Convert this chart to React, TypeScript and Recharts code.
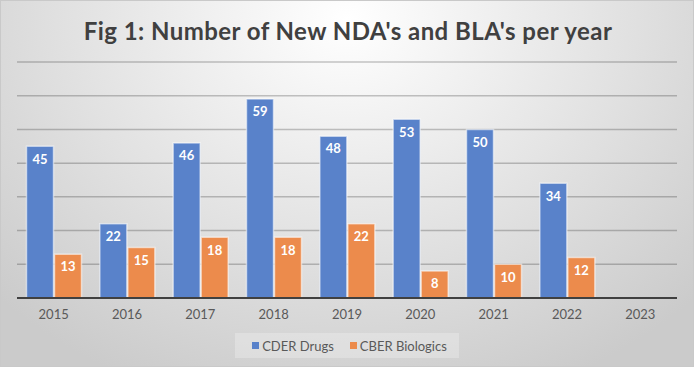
import React from 'react';
import { BarChart, Bar, XAxis, YAxis, CartesianGrid, Legend, LabelList } from 'recharts';

const years = ['2015', '2016', '2017', '2018', '2019', '2020', '2021', '2022', '2023'];
const cderDrugs: (number | null)[] = [45, 22, 46, 59, 48, 53, 50, 34, null];
const cberBiologics: (number | null)[] = [13, 15, 18, 18, 22, 8, 10, 12, null];
const yTicks = [0, 10, 20, 30, 40, 50, 60, 70];
const seriesNames = ['CDER Drugs', 'CBER Biologics'];
const title = "Fig 1: Number of New NDA's and BLA's per year";

const data = years.map((y, i) => ({ year: y, cder: cderDrugs[i], cber: cberBiologics[i] }));

const FONT = "Lato, 'Open Sans', sans-serif";
const BLUE = '#5982CA';
const ORANGE = '#EC8B4C';

const LegendContent = (props: any) => {
  const payload = [...(props.payload || [])].sort(
    (a: any, b: any) => seriesNames.indexOf(a.value) - seriesNames.indexOf(b.value)
  );
  return (
    <div style={{ display: 'flex', justifyContent: 'center' }}>
      <div
        style={{
          display: 'flex',
          alignItems: 'center',
          height: 25,
          padding: '0 12px 0 17px',
          background: 'rgba(255,255,255,0.25)',
          fontFamily: FONT,
          fontSize: 13,
          color: '#595959',
        }}
      >
        {payload.map((p: any, i: number) => (
          <div key={i} style={{ display: 'flex', alignItems: 'center', marginRight: i === 0 ? 16 : 0 }}>
            <span style={{ width: 7, height: 7, background: p.color, display: 'inline-block', marginRight: 3 }} />
            <span>{p.value}</span>
          </div>
        ))}
      </div>
    </div>
  );
};

export default function App() {
  React.useEffect(() => {
    document.body.style.margin = '0';
  }, []);
  return (
    <div
      style={{
        position: 'relative',
        width: 694,
        height: 367,
        boxSizing: 'border-box',
        border: '1px solid #c9c9c9',
        background:
          'radial-gradient(ellipse 70% 110% at 50% 5%, #ffffff 0%, #f2f2f2 25%, #e0e0e0 60%, #cbcbcb 100%)',
        overflow: 'hidden',
      }}
    >
      <div
        style={{
          position: 'absolute',
          top: 16,
          left: 0,
          width: 694,
          textAlign: 'center',
          fontFamily: FONT,
          fontWeight: 700,
          fontSize: 24,
          letterSpacing: 0.45,
          lineHeight: '28px',
          color: '#404040',
        }}
      >
        {title}
      </div>
      <div style={{ position: 'absolute', left: -1, top: -1 }}>
        <BarChart
          width={694}
          height={367}
          data={data}
          margin={{ top: 62, right: 17, left: 17, bottom: 14 }}
          barCategoryGap={9.5}
          barGap={1}
        >
          <CartesianGrid vertical={false} stroke="rgba(0,0,0,0.22)" strokeWidth={1.5} />
          <YAxis hide domain={[0, 70]} ticks={yTicks} />
          <XAxis
            dataKey="year"
            axisLine={{ stroke: '#404040', strokeWidth: 2 }}
            tickLine={false}
            tickMargin={6}
            tick={{ fill: '#595959', fontSize: 13, fontFamily: FONT }}
            height={30}
          />
          <Legend
            verticalAlign="bottom"
            height={25}
            content={<LegendContent />}
            wrapperStyle={{ bottom: 9 }}
          />
          <Bar dataKey="cder" name={seriesNames[0]} fill={BLUE} stroke="rgba(255,255,255,0.55)" strokeWidth={1.5} isAnimationActive={false}>
            <LabelList dataKey="cder" position="insideTop" offset={8} fill="#ffffff" fontSize={13} fontWeight={700} fontFamily={FONT} />
          </Bar>
          <Bar dataKey="cber" name={seriesNames[1]} fill={ORANGE} stroke="rgba(255,255,255,0.55)" strokeWidth={1.5} isAnimationActive={false}>
            <LabelList dataKey="cber" position="insideTop" offset={8} fill="#ffffff" fontSize={13} fontWeight={700} fontFamily={FONT} />
          </Bar>
        </BarChart>
      </div>
    </div>
  );
}
